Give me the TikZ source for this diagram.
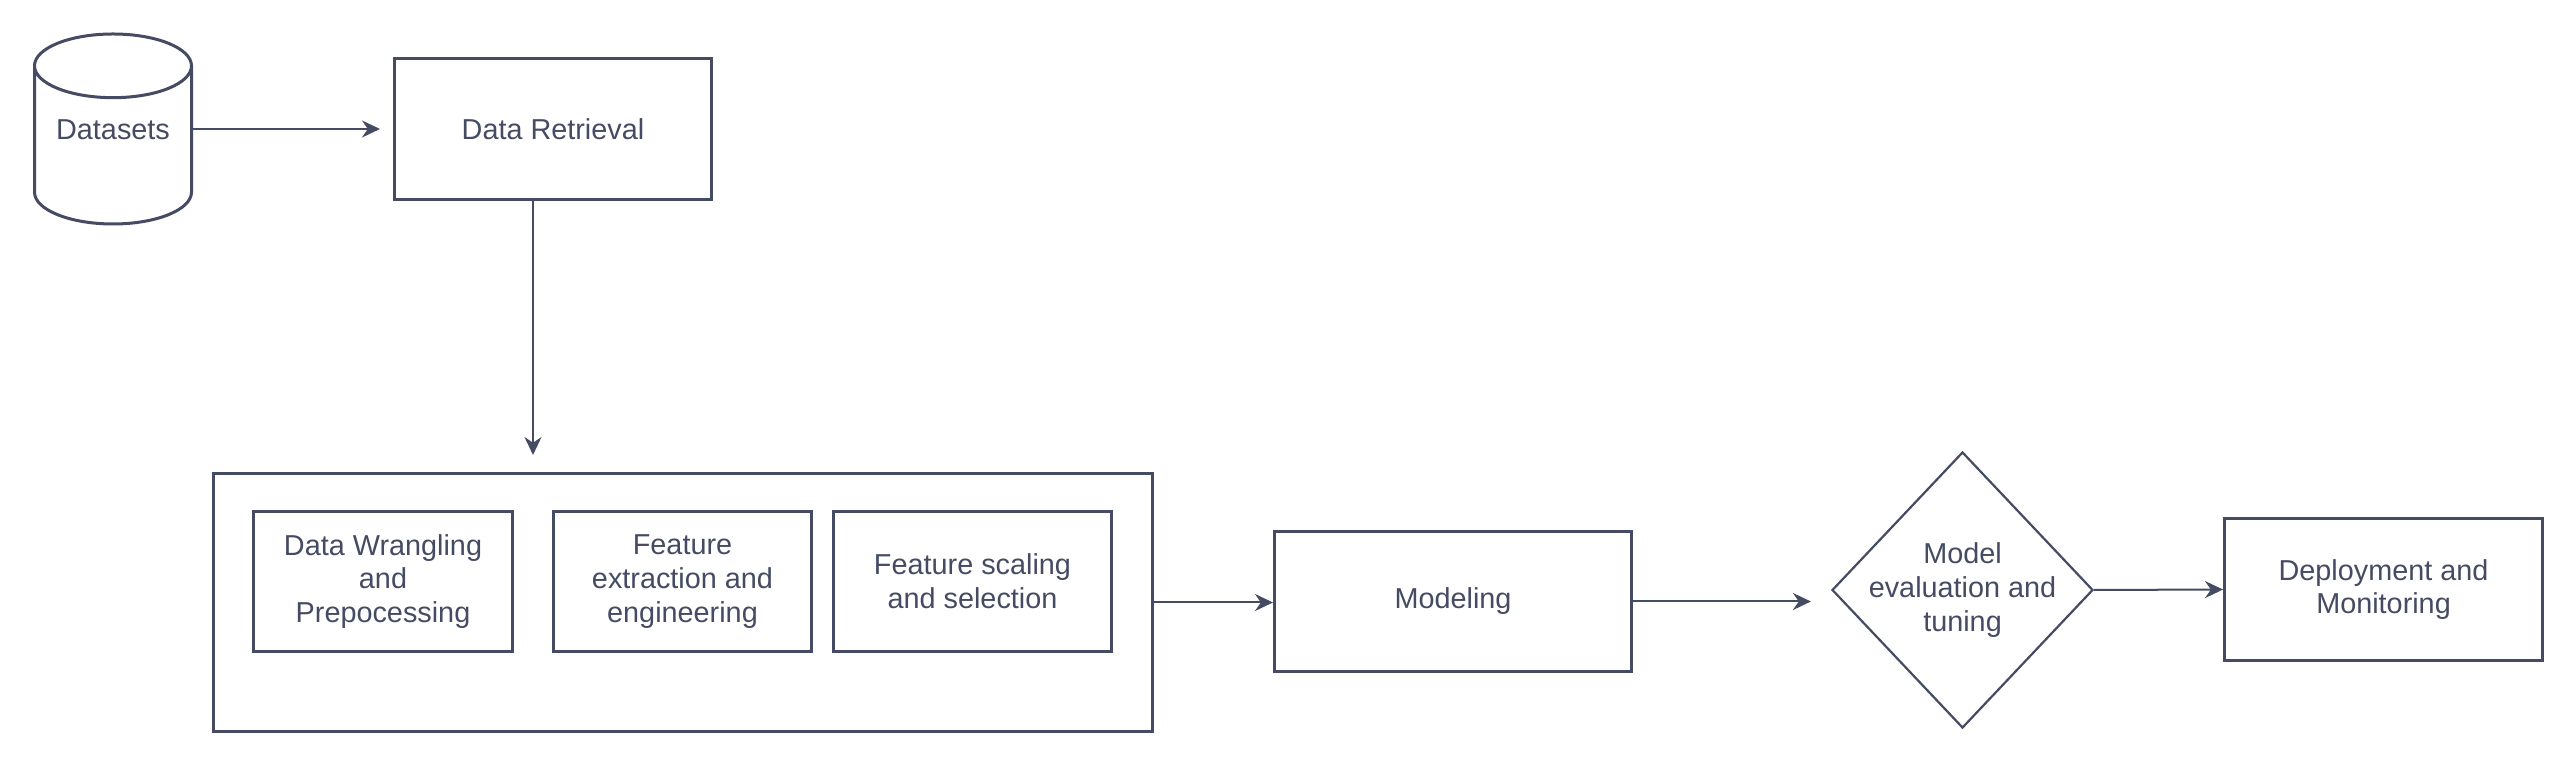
\documentclass[tikz,border=0pt]{standalone}
\usepackage{fontspec}
\setmainfont{Liberation Sans}
\usetikzlibrary{arrows.meta}
\usetikzlibrary{positioning}
\usetikzlibrary{shapes.geometric}
\definecolor{ink}{HTML}{444B63}
\tikzset{
  box/.style={draw=ink,line width=0.03cm,rectangle,align=center,text=ink,inner sep=0pt,
    font=\fontsize{8.2}{9.6}\selectfont},
  arr/.style={draw=ink,line width=0.02cm,-{Stealth[length=0.18cm,width=0.17cm]}}
}

\begin{document}
\begin{tikzpicture}
\useasboundingbox (0,0) rectangle (25.76,-7.66);
% top row
\node[box,cylinder,shape border rotate=90,aspect=0.56,minimum width=1.57cm,minimum height=1.90cm,text height=0cm,text depth=0.12cm,anchor=shape center] (data) at (1.13,-1.29) {Datasets};
\node[box,minimum width=3.17cm,minimum height=1.41cm] (retr) at (5.53,-1.29) {Data Retrieval};

% preparation block
\node[box,minimum width=9.39cm,minimum height=2.58cm] (prep) at (6.83,-6.025) {};
\node[box,minimum width=2.59cm,minimum height=1.40cm] (wrang) at (3.83,-5.815) {Data Wrangling\\and\\Prepocessing};
\node[box,minimum width=2.58cm,minimum height=1.40cm] (extr) at (6.825,-5.815) {Feature\\extraction and\\engineering};
\node[box,minimum width=2.78cm,minimum height=1.40cm] (scal) at (9.725,-5.815) {Feature scaling\\and selection};

% bottom row
\node[box,minimum width=3.57cm,minimum height=1.40cm] (model) at (14.53,-6.015) {Modeling};
\node[box,diamond,line width=0.022cm,aspect=0.95,inner sep=-0.045cm,minimum width=2.61cm,minimum height=2.76cm] (eval) at (19.625,-5.90) {Model\\evaluation and\\tuning};
\node[box,minimum width=3.18cm,minimum height=1.42cm] (deploy) at (23.835,-5.895) {Deployment and\\Monitoring};

% connectors
\draw[arr,shorten >=0.13cm] (retr.west -| data.east) -- (retr.west);
\draw[arr,shorten >=0.17cm] ([xshift=-0.2cm]retr.south) -- ([xshift=-0.2cm]retr.south |- prep.north);
\draw[arr] (prep.east) -- (prep.east -| model.west);
\draw[arr,shorten >=0.2cm] (model.east) -- (model.east -| eval.west);
\draw[arr] (eval.east) -- (deploy.west);
\end{tikzpicture}
\end{document}
